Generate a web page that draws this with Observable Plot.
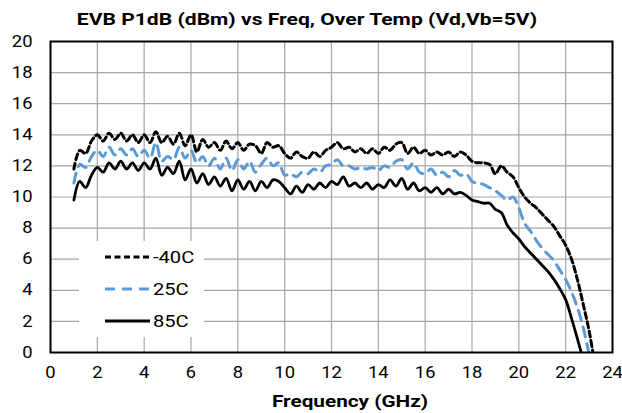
<!DOCTYPE html>
<html><head><meta charset="utf-8">
<script src="https://cdn.jsdelivr.net/npm/d3@7"></script>
<script src="https://cdn.jsdelivr.net/npm/@observablehq/plot@0.6"></script>
<style>
body{margin:0;background:#fff;font-family:Roboto,"Liberation Sans",sans-serif;}
#wrap{position:relative;width:622px;height:413px;overflow:hidden;}
#title{position:absolute;left:57px;width:500px;top:8px;text-align:center;font-weight:bold;font-size:17px;line-height:22px;color:#000;white-space:nowrap;transform:scaleX(1.24);transform-origin:center;}
#xlabel{position:absolute;left:250px;width:200px;top:390px;text-align:center;font-weight:bold;font-size:17px;line-height:22px;color:#000;transform:scaleX(1.22);transform-origin:center;}
#legend{position:absolute;left:79px;top:241px;width:125px;height:96px;background:#fff;}
#legend svg{position:absolute;left:0;top:0;}
#wrap > svg{position:absolute;left:0;top:0;}
</style></head>
<body>
<div id="wrap"></div>
<script>
const title = "EVB P1dB (dBm) vs Freq, Over Temp (Vd,Vb=5V)";
const xLabel = "Frequency (GHz)";
const xTicks = [0,2,4,6,8,10,12,14,16,18,20,22,24];
const yTicks = [0,2,4,6,8,10,12,14,16,18,20];
const seriesNames = ["-40C","25C","85C"];

const freq = [1.0,1.25,1.5,1.75,2.0,2.25,2.5,2.75,3.0,3.25,3.5,3.75,4.0,4.25,4.5,4.75,5.0,5.25,5.5,5.75,
6.0,6.25,6.5,6.75,7.0,7.25,7.5,7.75,8.0,8.25,8.5,8.75,9.0,9.25,9.5,9.75,10.0,10.25,10.5,10.75,
11.0,11.25,11.5,11.75,12.0,12.25,12.5,12.75,13.0,13.25,13.5,13.75,14.0,14.25,14.5,14.75,15.0,15.25,15.5,15.75,
16.0,16.25,16.5,16.75,17.0,17.25,17.5,17.75,18.0,18.25,18.5,18.75,19.0,19.25,19.5,19.75,20.0,20.25,20.5,20.75,
21.0,21.25,21.5,21.75,22.0,22.25,22.5,22.75,23.0,23.25];

const tM40 = [11.8,13.0,12.8,13.6,14.0,13.6,14.1,13.7,14.1,13.6,14.0,13.5,14.0,13.5,14.2,13.5,13.9,13.4,14.1,13.3,
14.0,12.9,13.7,13.2,13.5,13.0,13.6,13.1,13.5,13.0,13.4,13.3,12.8,13.5,13.2,13.3,12.8,12.5,12.9,12.6,
12.5,12.9,12.6,13.0,13.2,13.5,13.1,13.2,12.9,13.1,12.8,13.1,12.8,13.2,13.0,13.4,13.5,12.8,13.2,12.8,
13.0,12.7,12.9,12.7,12.9,12.6,12.9,12.7,12.3,12.2,12.2,12.1,11.5,12.0,11.6,11.3,10.6,10.0,9.6,9.3,
8.9,8.5,8.1,7.5,6.9,6.0,4.7,3.1,1.4,-0.8];

const t25 = [10.9,12.1,11.9,12.6,13.0,12.6,13.2,12.7,13.1,12.7,13.1,12.6,13.0,12.5,13.5,12.3,12.6,12.4,13.2,12.5,
13.0,12.2,12.6,12.0,12.5,11.8,12.5,11.7,12.4,11.8,12.3,11.6,12.1,12.5,12.0,12.2,11.4,11.5,11.3,11.6,
11.5,11.8,11.6,12.0,12.1,12.4,12.0,12.0,11.8,11.9,11.8,11.9,11.7,12.0,11.9,12.3,12.4,11.8,12.2,11.6,
11.5,11.8,11.4,11.6,11.3,11.7,11.4,11.5,11.0,10.9,10.8,10.6,10.4,10.1,9.8,10.0,9.3,8.3,7.8,7.2,
6.7,6.3,5.9,5.3,4.7,3.9,2.9,1.6,-0.1,null];

const t85 = [9.8,11.0,10.6,11.4,11.9,11.6,12.2,11.8,12.3,11.8,12.2,11.7,12.2,11.8,12.5,11.4,11.9,11.5,12.3,11.1,
11.8,10.9,11.5,10.8,11.3,10.7,11.2,10.4,11.1,10.5,11.0,10.4,11.0,10.6,11.1,11.0,10.6,10.2,10.7,10.3,
10.8,10.5,10.9,10.6,11.0,10.8,11.3,10.7,10.9,10.6,10.9,10.5,10.8,10.6,11.1,10.7,11.2,10.5,10.9,10.4,
10.6,10.3,10.6,10.2,10.5,10.2,10.3,10.1,9.8,9.7,9.6,9.6,9.2,9.0,8.2,7.7,7.3,6.8,6.4,6.0,
5.6,5.2,4.7,4.1,3.4,2.2,0.9,-0.5,null,null];

const styles = {
  "-40C": {stroke:"#000000", dash:"6,3.5", width:3},
  "25C": {stroke:"#5B9BD5", dash:"10,7", width:3},
  "85C": {stroke:"#000000", dash:null, width:2.8}
};
const seriesValues = {"-40C": tM40, "25C": t25, "85C": t85};

function rows(name){
  return freq.map((f,i)=>({f, v: seriesValues[name][i]})).filter(d => d.v !== null);
}

const lineMarks = seriesNames.map(name => Plot.line(rows(name), {
  x:"f", y:"v", curve:"catmull-rom", clip:true,
  stroke: styles[name].stroke, strokeWidth: styles[name].width,
  strokeDasharray: styles[name].dash, strokeLinejoin:"round"
}));

const chart = Plot.plot({
  width:622, height:413,
  marginTop:41, marginLeft:50, marginRight:10, marginBottom:61,
  style:{fontFamily:"Roboto, 'Liberation Sans', sans-serif", background:"transparent", color:"#000"},
  x:{domain:[0,24]},
  y:{domain:[0,20]},
  marks:[
    Plot.gridX(xTicks, {stroke:"#a6a6a6", strokeOpacity:1, strokeWidth:1.2}),
    Plot.gridY(yTicks, {stroke:"#a6a6a6", strokeOpacity:1, strokeWidth:1.2}),
    Plot.axisX(xTicks, {tickSize:0, tickPadding:14, fontSize:16, label:null, fill:"#000"}),
    Plot.axisY(yTicks, {tickSize:0, tickPadding:18, fontSize:16, label:null, fill:"#000"}),
    ...lineMarks,
    Plot.frame({stroke:"#000", strokeWidth:2})
  ]
});

// widen tick label glyphs horizontally to match the reference's wide lettering
chart.querySelectorAll("g[aria-label='x-axis tick label'] text, g[aria-label='y-axis tick label'] text").forEach(el => {
  const tr = el.getAttribute("transform") || "";
  el.setAttribute("transform", tr + " scale(1.15,1)");
});

const wrap = document.getElementById("wrap");
wrap.appendChild(chart);

const t = document.createElement("div"); t.id="title"; t.textContent = title; wrap.appendChild(t);
const xl = document.createElement("div"); xl.id="xlabel"; xl.textContent = xLabel; wrap.appendChild(xl);

// legend
const leg = document.createElement("div"); leg.id = "legend";
const ns = "http://www.w3.org/2000/svg";
const lsvg = document.createElementNS(ns, "svg");
lsvg.setAttribute("width","125"); lsvg.setAttribute("height","96");
seriesNames.forEach((name, i) => {
  const y = 16 + i*32;
  const ln = document.createElementNS(ns, "line");
  ln.setAttribute("x1", 26); ln.setAttribute("x2", 71);
  ln.setAttribute("y1", y); ln.setAttribute("y2", y);
  ln.setAttribute("stroke", styles[name].stroke);
  ln.setAttribute("stroke-width", styles[name].width);
  if (styles[name].dash) ln.setAttribute("stroke-dasharray", styles[name].dash);
  lsvg.appendChild(ln);
  const tx = document.createElementNS(ns, "text");
  tx.setAttribute("transform", `translate(74,${y}) scale(1.22,1)`);
  tx.setAttribute("dy", "0.36em");
  tx.setAttribute("font-size", "16.5");
  tx.setAttribute("font-family", "Roboto, 'Liberation Sans', sans-serif");
  tx.textContent = name;
  lsvg.appendChild(tx);
});
leg.appendChild(lsvg);
wrap.appendChild(leg);
</script>
</body></html>
